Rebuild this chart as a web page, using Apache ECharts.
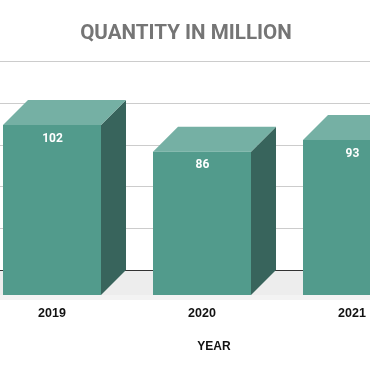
<!DOCTYPE html>
<html>
<head>
<meta charset="utf-8">
<style>
  html, body { margin: 0; padding: 0; background: #fff; }
  #chart { width: 370px; height: 371px; }
</style>
<script src="https://cdn.jsdelivr.net/npm/echarts@6/dist/echarts.min.js"></script>
</head>
<body>
<div id="chart"></div>
<script>
const years = ['2019', '2020', '2021'];
const quantity = [102, 86, 93];

const depth = 25;       // 3D offset of the box, right and up
const barWidth = 98;

let myChart = echarts.init(document.getElementById('chart'), null, { renderer: 'canvas' });

function renderBox(params, api) {
    let top = api.coord([api.value(0), api.value(1)]);
    let base = api.coord([api.value(0), 0]);
    let x0 = top[0] - barWidth / 2;
    let x1 = x0 + barWidth;
    return {
        type: 'group',
        children: [{
            type: 'polygon',
            shape: { points: [[x1, top[1]], [x1 + depth, top[1] - depth], [x1 + depth, base[1] - depth], [x1, base[1]]] },
            style: { fill: '#38645c' }
        }, {
            type: 'polygon',
            shape: { points: [[x0, top[1]], [x0 + depth, top[1] - depth], [x1 + depth, top[1] - depth], [x1, top[1]]] },
            style: { fill: '#75b0a4' }
        }, {
            type: 'rect',
            shape: { x: x0, y: top[1], width: barWidth, height: base[1] - top[1] },
            style: { fill: '#529b8c' }
        }, {
            type: 'text',
            style: {
                text: String(api.value(1)),
                x: top[0] + 0.5,
                y: top[1] + 13.5,
                align: 'center',
                verticalAlign: 'middle',
                fill: '#fff',
                font: 'bold 12px Roboto'
            }
        }]
    };
}

// floor strip under the boxes, full chart width
function renderFloor(params, api) {
    let y0 = api.coord([0, 0])[1];
    return {
        type: 'group',
        children: [{
            type: 'rect',
            shape: { x: 0, y: y0 - depth, width: api.getWidth(), height: depth },
            style: { fill: '#ededed' }
        }, {
            type: 'rect',
            shape: { x: 0, y: y0, width: api.getWidth(), height: 5 },
            style: { fill: '#f3f3f3' }
        }]
    };
}

let option = {
    backgroundColor: '#fff',
    animation: false,
    title: {
        text: 'QUANTITY IN MILLION',
        left: 181,
        top: 18,
        textAlign: 'center',
        textStyle: { fontFamily: 'Roboto', fontSize: 20.6, fontWeight: 'bold', color: '#757575' }
    },
    grid: [
        // third box runs off the right edge, so the front grid is wider than the canvas
        { left: -23, width: 450, top: 86.67, height: 208.33, outerBoundsMode: 'none' },
        { left: 0, right: 0, top: 61.67, height: 208.33, outerBoundsMode: 'none' }
    ],
    xAxis: [{
        type: 'category',
        gridIndex: 0,
        data: years,
        axisLine: { show: false },
        axisTick: { show: false },
        axisLabel: {
            margin: 12,
            interval: 0,
            color: '#111',
            fontFamily: 'Liberation Sans',
            fontSize: 12.5,
            fontWeight: 'bold'
        },
        name: 'YEAR',
        nameLocation: 'middle',
        nameGap: 46,
        nameTextStyle: {
            color: '#111',
            fontFamily: 'Liberation Sans',
            fontSize: 12,
            fontWeight: 'bold',
            padding: [0, 0, 0, 24]
        }
    }, {
        type: 'category',
        gridIndex: 1,
        data: years,
        axisLine: { show: true, lineStyle: { color: '#333', width: 1 } },
        axisTick: { show: false },
        axisLabel: { show: false }
    }],
    yAxis: [{
        type: 'value',
        gridIndex: 0,
        min: 0,
        max: 125,
        interval: 25,
        axisLine: { show: false },
        axisTick: { show: false },
        axisLabel: { show: false },
        splitLine: { show: false }
    }, {
        type: 'value',
        gridIndex: 1,
        min: 0,
        max: 125,
        interval: 25,
        axisLine: { show: false },
        axisTick: { show: false },
        axisLabel: { show: false },
        splitLine: { lineStyle: { color: '#ccc', width: 1 } }
    }],
    series: [{
        type: 'custom',
        xAxisIndex: 0,
        yAxisIndex: 0,
        z: -1,
        silent: true,
        clip: false,
        renderItem: renderFloor,
        data: [[0, 0]]
    }, {
        type: 'custom',
        xAxisIndex: 0,
        yAxisIndex: 0,
        z: 2,
        clip: false,
        renderItem: renderBox,
        encode: { x: 0, y: 1 },
        data: quantity.map((v, i) => [i, v])
    }]
};

myChart.setOption(option);
</script>
</body>
</html>
